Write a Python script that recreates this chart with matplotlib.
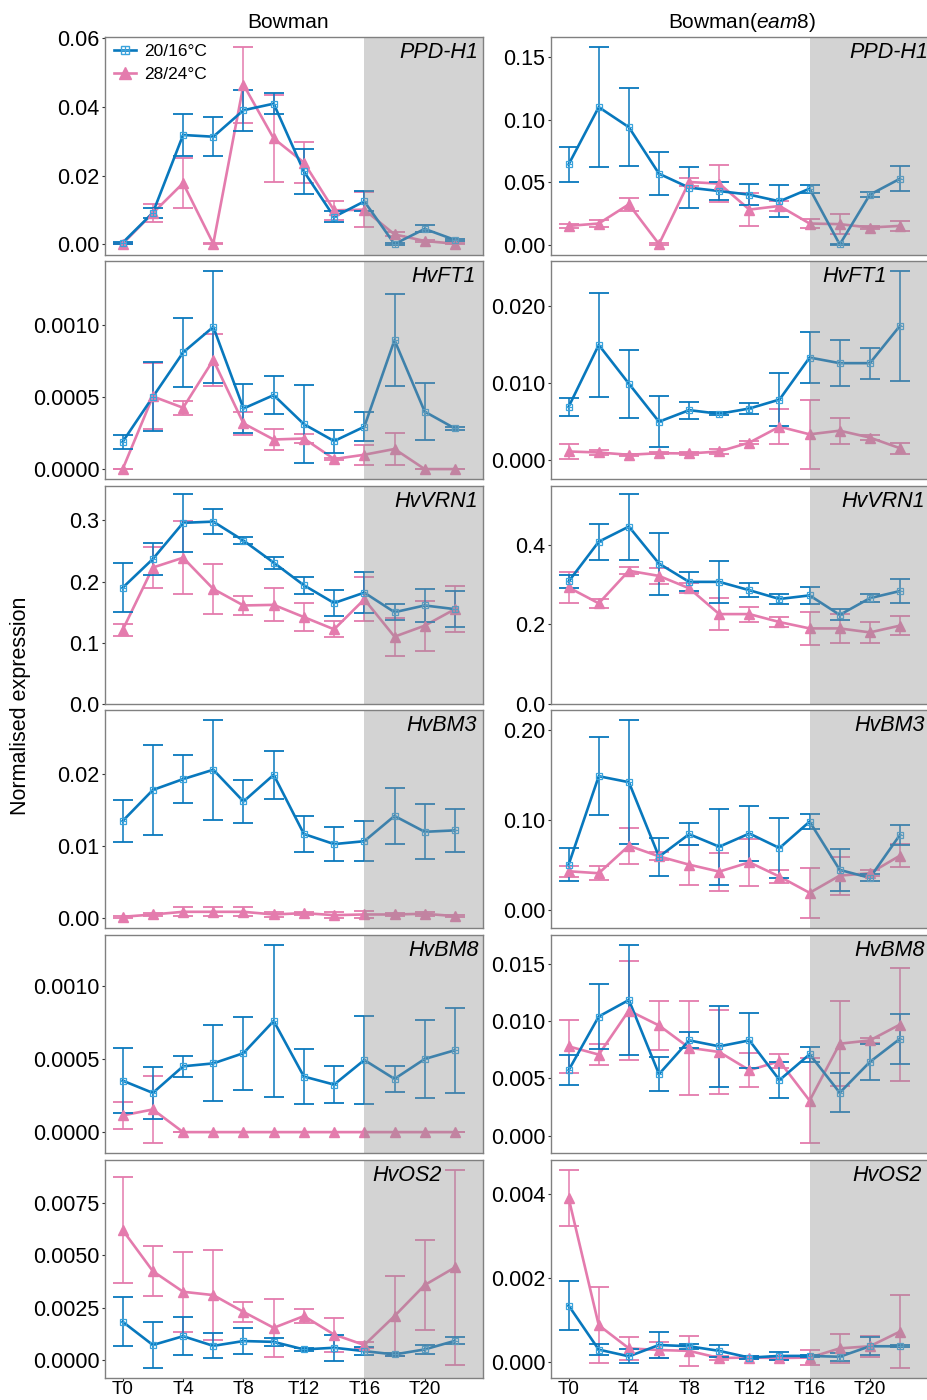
import matplotlib
matplotlib.use("Agg")
import matplotlib.pyplot as plt
from matplotlib.lines import Line2D
from matplotlib.legend_handler import HandlerTuple

plt.rcParams['font.family'] = ['Liberation Sans', 'DejaVu Sans']
plt.rcParams['mathtext.fontset'] = 'custom'
plt.rcParams['mathtext.rm'] = 'Liberation Sans'
plt.rcParams['mathtext.it'] = 'Liberation Sans:italic'

hours = [0, 2, 4, 6, 8, 10, 12, 14, 16, 18, 20, 22]
tick_hours = [0, 4, 8, 12, 16, 20]
tick_labels = ['T0', 'T4', 'T8', 'T12', 'T16', 'T20']
genes = ['PPD-H1', 'HvFT1', 'HvVRN1', 'HvBM3', 'HvBM8', 'HvOS2']
series_labels = ['20/16°C', '28/24°C']

# PPD-H1
ppd_bw_c = [0.0005, 0.0092, 0.0318, 0.0313, 0.0390, 0.0409, 0.0212, 0.0080, 0.0125, 0.0001, 0.0045, 0.0013]
ppd_bw_c_se = [0.0003, 0.0015, 0.0060, 0.0057, 0.0060, 0.0030, 0.0066, 0.0016, 0.0029, 0.0003, 0.0010, 0.0003]
ppd_bw_w = [0.0002, 0.0091, 0.0178, 0.0002, 0.0464, 0.0308, 0.0238, 0.0099, 0.0101, 0.0029, 0.0010, 0.0002]
ppd_bw_w_se = [0.0002, 0.0025, 0.0072, 0.0002, 0.0110, 0.0127, 0.0060, 0.0028, 0.0050, 0.0006, 0.0003, 0.0002]
ppd_e8_c = [0.0643, 0.110, 0.094, 0.0569, 0.0458, 0.0431, 0.0402, 0.0349, 0.0450, 0.0005, 0.0402, 0.0529]
ppd_e8_c_se = [0.014, 0.048, 0.031, 0.017, 0.0164, 0.0074, 0.0085, 0.0127, 0.0032, 0.0005, 0.002, 0.010]
ppd_e8_w = [0.0153, 0.0172, 0.0325, 0.0008, 0.0503, 0.0490, 0.0283, 0.0312, 0.0172, 0.0167, 0.0140, 0.0153]
ppd_e8_w_se = [0.0015, 0.003, 0.005, 0.0008, 0.0035, 0.015, 0.013, 0.004, 0.0037, 0.0079, 0.0015, 0.004]

# HvFT1
ft1_bw_c = [0.00019, 0.000503, 0.000812, 0.00099, 0.000422, 0.000515, 0.000313, 0.000195, 0.000295, 0.000898, 0.0004, 0.000283]
ft1_bw_c_se = [0.00005, 0.00024, 0.00024, 0.00039, 0.00017, 0.00013, 0.00027, 0.00008, 0.0001, 0.00032, 0.0002, 0.00001]
ft1_bw_w = [0.0, 0.000506, 0.000427, 0.00076, 0.000318, 0.000206, 0.000213, 0.00007, 0.0001, 0.00014, 0.0, 0.0]
ft1_bw_w_se = [0.0, 0.00023, 0.00005, 0.00018, 0.00008, 0.00007, 0.00003, 0.00001, 0.00007, 0.00011, 0.0, 0.0]
ft1_e8_c = [0.00694, 0.01495, 0.00994, 0.00501, 0.00651, 0.00604, 0.00672, 0.00788, 0.01332, 0.01259, 0.01259, 0.01743]
ft1_e8_c_se = [0.0012, 0.0067, 0.0044, 0.0033, 0.0011, 0.0002, 0.0007, 0.0034, 0.0033, 0.003, 0.002, 0.0071]
ft1_e8_w = [0.00116, 0.00103, 0.00073, 0.00094, 0.0009, 0.00116, 0.00231, 0.00437, 0.00338, 0.00385, 0.00296, 0.00158]
ft1_e8_w_se = [0.001, 0.0003, 0.0001, 0.0001, 0.0002, 0.0003, 0.0002, 0.0023, 0.0045, 0.0017, 0.0003, 0.0007]

# HvVRN1
vrn_bw_c = [0.190, 0.237, 0.296, 0.298, 0.267, 0.231, 0.194, 0.165, 0.182, 0.150, 0.161, 0.155]
vrn_bw_c_se = [0.040, 0.026, 0.047, 0.020, 0.006, 0.010, 0.014, 0.021, 0.033, 0.013, 0.027, 0.029]
vrn_bw_w = [0.121, 0.223, 0.239, 0.188, 0.161, 0.162, 0.142, 0.122, 0.171, 0.110, 0.128, 0.155]
vrn_bw_w_se = [0.010, 0.034, 0.060, 0.041, 0.015, 0.027, 0.023, 0.013, 0.036, 0.031, 0.041, 0.037]
vrn_e8_c = [0.308, 0.408, 0.446, 0.353, 0.307, 0.307, 0.286, 0.264, 0.273, 0.224, 0.266, 0.284]
vrn_e8_c_se = [0.017, 0.045, 0.083, 0.078, 0.024, 0.052, 0.018, 0.013, 0.021, 0.014, 0.010, 0.029]
vrn_e8_w = [0.293, 0.253, 0.335, 0.322, 0.291, 0.226, 0.226, 0.206, 0.190, 0.190, 0.180, 0.197]
vrn_e8_w_se = [0.038, 0.012, 0.009, 0.020, 0.012, 0.041, 0.019, 0.012, 0.041, 0.036, 0.027, 0.023]

# HvBM3
bm3_bw_c = [0.0135, 0.0178, 0.0193, 0.0206, 0.0162, 0.0199, 0.0117, 0.0103, 0.0107, 0.0142, 0.0120, 0.0122]
bm3_bw_c_se = [0.0029, 0.0062, 0.0033, 0.0069, 0.0030, 0.0033, 0.0025, 0.0023, 0.0028, 0.0039, 0.0038, 0.0030]
bm3_bw_w = [0.00023, 0.00055, 0.00092, 0.00092, 0.00092, 0.00055, 0.00074, 0.00046, 0.00055, 0.00055, 0.00065, 0.00032]
bm3_bw_w_se = [0.0001, 0.0002, 0.0006, 0.0006, 0.0006, 0.0003, 0.0002, 0.0004, 0.0005, 0.0002, 0.0003, 0.0001]
bm3_e8_c = [0.0506, 0.1486, 0.142, 0.0594, 0.0844, 0.0705, 0.0851, 0.069, 0.0983, 0.0448, 0.036, 0.0837]
bm3_e8_c_se = [0.018, 0.043, 0.069, 0.021, 0.012, 0.042, 0.030, 0.033, 0.008, 0.023, 0.004, 0.011]
bm3_e8_w = [0.0433, 0.0411, 0.0716, 0.0598, 0.0506, 0.0429, 0.0532, 0.0374, 0.0194, 0.0385, 0.0411, 0.0606]
bm3_e8_w_se = [0.006, 0.0077, 0.020, 0.0045, 0.022, 0.021, 0.026, 0.007, 0.028, 0.021, 0.0033, 0.0125]

# HvBM8
bm8_bw_c = [0.000352, 0.000268, 0.00045, 0.00047, 0.00054, 0.00076, 0.00038, 0.000325, 0.000493, 0.000364, 0.0005, 0.00056]
bm8_bw_c_se = [0.00022, 0.00018, 0.00007, 0.00026, 0.00025, 0.00052, 0.00019, 0.000125, 0.0003, 0.00009, 0.00027, 0.00029]
bm8_bw_w = [0.000114, 0.000155, 0, 0, 0, 0, 0, 0, 0, 0, 0, 0]
bm8_bw_w_se = [0.00009, 0.00023, 0, 0, 0, 0, 0, 0, 0, 0, 0, 0]
bm8_e8_c = [0.00571, 0.01039, 0.01183, 0.00537, 0.00831, 0.00779, 0.00831, 0.00485, 0.0071, 0.00375, 0.00643, 0.00845]
bm8_e8_c_se = [0.0013, 0.0028, 0.0048, 0.0015, 0.0007, 0.0035, 0.0024, 0.0016, 0.00065, 0.0017, 0.0016, 0.0022]
bm8_e8_w = [0.00779, 0.00707, 0.01091, 0.00961, 0.00767, 0.0073, 0.00571, 0.00649, 0.00306, 0.00802, 0.00831, 0.00969]
bm8_e8_w_se = [0.0023, 0.0009, 0.0043, 0.0021, 0.0041, 0.0037, 0.0015, 0.0006, 0.0037, 0.0037, 0.0002, 0.0049]

# HvOS2
os2_bw_c = [0.00183, 0.00072, 0.00114, 0.00068, 0.00091, 0.00087, 0.00051, 0.00059, 0.00043, 0.00027, 0.00051, 0.00092]
os2_bw_c_se = [0.00118, 0.0011, 0.00091, 0.0006, 0.00063, 0.0002, 0.00006, 0.00063, 0.0002, 0.00005, 0.00021, 0.00016]
os2_bw_w = [0.0062, 0.00424, 0.00326, 0.0031, 0.0023, 0.00154, 0.0021, 0.00122, 0.00072, 0.0021, 0.00358, 0.00442]
os2_bw_w_se = [0.00254, 0.00119, 0.0019, 0.00215, 0.00047, 0.00137, 0.00033, 0.00081, 0.00013, 0.0019, 0.00213, 0.00465]
os2_e8_c = [0.00134, 0.00029, 0.00013, 0.0004, 0.00037, 0.00026, 0.0001, 0.00014, 0.00014, 0.00012, 0.00037, 0.00037]
os2_e8_c_se = [0.00058, 0.00013, 0.00017, 0.00032, 0.00006, 0.00015, 0.00004, 0.0001, 0.00002, 0.0001, 0.00022, 0.00002]
os2_e8_w = [0.0039, 0.00087, 0.00032, 0.00028, 0.00026, 0.00009, 0.0001, 0.00009, 0.0001, 0.00032, 0.00037, 0.00072]
os2_e8_w_se = [0.00067, 0.0009, 0.00027, 0.00018, 0.00035, 0.00005, 0.00004, 0.00004, 0.00018, 0.00035, 0.00025, 0.00087]

# y ticks per panel (left column, right column)
yt_left = [[0, 0.02, 0.04, 0.06], [0, 0.0005, 0.0010], [0, 0.1, 0.2, 0.3],
           [0, 0.01, 0.02], [0, 0.0005, 0.0010], [0, 0.0025, 0.0050, 0.0075]]
yt_right = [[0, 0.05, 0.10, 0.15], [0, 0.010, 0.020], [0, 0.2, 0.4],
            [0, 0.10, 0.20], [0, 0.005, 0.010, 0.015], [0, 0.002, 0.004]]
fmt_left = ['%.2f', '%.4f', '%.1f', '%.2f', '%.4f', '%.4f']
fmt_right = ['%.2f', '%.3f', '%.1f', '%.2f', '%.3f', '%.3f']

panels_left = [(ppd_bw_c, ppd_bw_c_se, ppd_bw_w, ppd_bw_w_se),
               (ft1_bw_c, ft1_bw_c_se, ft1_bw_w, ft1_bw_w_se),
               (vrn_bw_c, vrn_bw_c_se, vrn_bw_w, vrn_bw_w_se),
               (bm3_bw_c, bm3_bw_c_se, bm3_bw_w, bm3_bw_w_se),
               (bm8_bw_c, bm8_bw_c_se, bm8_bw_w, bm8_bw_w_se),
               (os2_bw_c, os2_bw_c_se, os2_bw_w, os2_bw_w_se)]
panels_right = [(ppd_e8_c, ppd_e8_c_se, ppd_e8_w, ppd_e8_w_se),
                (ft1_e8_c, ft1_e8_c_se, ft1_e8_w, ft1_e8_w_se),
                (vrn_e8_c, vrn_e8_c_se, vrn_e8_w, vrn_e8_w_se),
                (bm3_e8_c, bm3_e8_c_se, bm3_e8_w, bm3_e8_w_se),
                (bm8_e8_c, bm8_e8_c_se, bm8_e8_w, bm8_e8_w_se),
                (os2_e8_c, os2_e8_c_se, os2_e8_w, os2_e8_w_se)]

# where the gene name ends (axes fraction)
lab_x_left = [0.987, 0.982, 0.987, 0.984, 0.99, 0.892]
lab_x_right = [1.0, 0.891, 0.992, 0.992, 0.992, 0.984]

BLUE = '#0878bd'
BLUE_MK = '#3aa3dc'
PINK = '#e47bad'
SPINE = '#808080'
FS = 15.5

W, H = 928, 1400
fig = plt.figure(figsize=(W / 100, H / 100), dpi=100)
row_tops = [37, 261, 486, 710, 935, 1160]
ph = 218


def draw_panel(ax, data, yticks, yfmt, gene, lab_x, bottom):
    cool, cool_se, warm, warm_se = data
    for mean, se, col, z in [(warm, warm_se, PINK, 2), (cool, cool_se, BLUE, 3)]:
        ax.errorbar(hours, mean, yerr=se, fmt='none', ecolor=col, elinewidth=1.1,
                    capsize=7, capthick=1.3, zorder=z)
        ax.plot(hours, mean, color=col, lw=1.9, zorder=z + 0.5, solid_joinstyle='round')
    ax.plot(hours, warm, ls='none', marker='^', ms=7.5, color=PINK, zorder=4)
    ax.plot(hours, cool, ls='none', marker='s', ms=4.8, mfc='none', mec=BLUE_MK, mew=0.9, zorder=4.5)
    ax.plot(hours, cool, ls='none', marker='+', ms=4.8, mec=BLUE_MK, mew=0.8, zorder=4.5)

    lo = min(min(m - s for m, s in zip(cool, cool_se)), min(m - s for m, s in zip(warm, warm_se)))
    hi = max(max(m + s for m, s in zip(cool, cool_se)), max(m + s for m, s in zip(warm, warm_se)))
    pad = (hi - lo) * 0.05
    ax.set_ylim(lo - pad, hi + pad)
    ax.set_xlim(-1.17, 23.86)
    ax.axvspan(16, 30, color='#919191', alpha=0.4, lw=0, zorder=5)

    ax.set_yticks(yticks)
    ax.set_yticklabels([yfmt % v for v in yticks])
    ax.tick_params(axis='y', length=2.5, width=0.8, color='#333333', pad=1.5,
                   labelsize=FS, labelcolor='black')
    if bottom:
        ax.set_xticks(tick_hours)
        ax.set_xticklabels(tick_labels)
        ax.tick_params(axis='x', length=2, width=0.8, color='#333333', pad=0.3,
                       labelsize=13.5, labelcolor='black')
    else:
        ax.set_xticks([])
    for sp in ax.spines.values():
        sp.set_color(SPINE)
        sp.set_linewidth(1.0)
        sp.set_zorder(6)
    ax.text(lab_x, 1 - 5 / ph, gene, transform=ax.transAxes, ha='right', va='top',
            fontsize=15.5, style='italic', zorder=7)


for r in range(6):
    b = 1 - (row_tops[r] + ph) / H
    axl = fig.add_axes([105 / W, b, 378 / W, ph / H])
    axr = fig.add_axes([551 / W, b, 377 / W, ph / H])
    draw_panel(axl, panels_left[r], yt_left[r], fmt_left[r], genes[r], lab_x_left[r], r == 5)
    draw_panel(axr, panels_right[r], yt_right[r], fmt_right[r], genes[r], lab_x_right[r], r == 5)
    axr.spines['right'].set_visible(False)
    if r == 0:
        h_cool = (Line2D([], [], color=BLUE, lw=1.9),
                  Line2D([], [], ls='none', marker='s', ms=5.5, mfc='none', mec=BLUE_MK, mew=1.0),
                  Line2D([], [], ls='none', marker='+', ms=5.5, mec=BLUE_MK, mew=0.9))
        h_warm = (Line2D([], [], color=PINK, lw=1.9),
                  Line2D([], [], ls='none', marker='^', ms=9, color=PINK))
        leg = axl.legend([h_cool, h_warm], series_labels,
                         handler_map={tuple: HandlerTuple(ndivide=1)},
                         loc='upper left', bbox_to_anchor=(-0.005, 1.015), frameon=False,
                         fontsize=12.5, handlelength=1.3, handletextpad=0.45,
                         labelspacing=0.45, borderaxespad=0.2)
        leg.set_zorder(8)

fig.text(288 / W, 1 - 23 / H, 'Bowman', ha='center', va='center', fontsize=15)
fig.text(742 / W, 1 - 23 / H, r'Bowman($\mathit{eam8}$)', ha='center', va='center', fontsize=15)
fig.text(21 / W, 1 - 706 / H, 'Normalised expression', rotation=90, ha='center',
         va='center', fontsize=15.5)

fig.savefig('out.png', dpi=100)
